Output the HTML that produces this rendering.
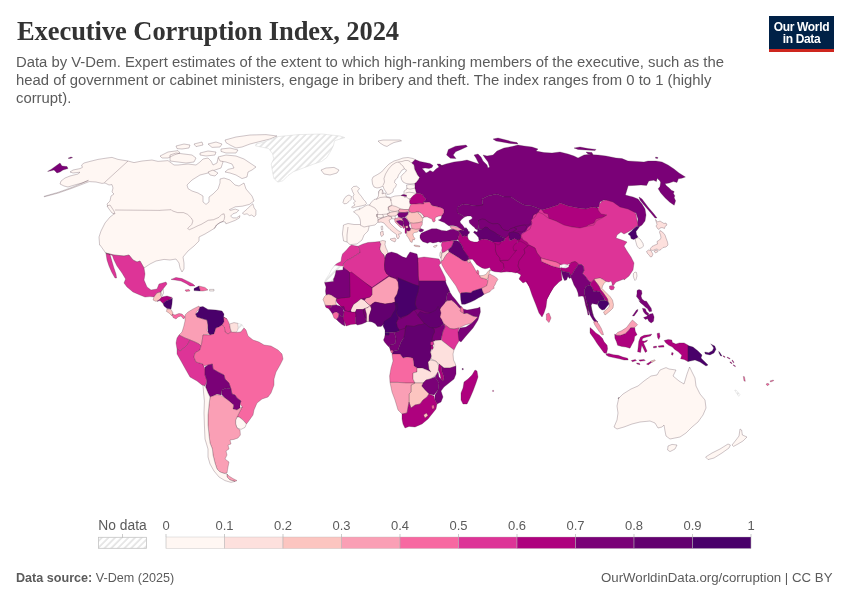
<!DOCTYPE html>
<html lang="en"><head><meta charset="utf-8"><title>Executive Corruption Index, 2024</title>
<style>
html,body{margin:0;padding:0;background:#fff;}
h1,.sub,.logo,.src,.url,svg{will-change:transform;}
body{width:850px;height:600px;position:relative;overflow:hidden;font-family:"Liberation Sans",sans-serif;color:#5b5b5b;}
h1{position:absolute;left:17.3px;top:15.4px;margin:0;font-family:"Liberation Serif",serif;font-weight:700;font-size:26.5px;line-height:32px;color:#333;white-space:nowrap;letter-spacing:-0.07px;}
.sub{position:absolute;left:16.3px;top:52.5px;margin:0;font-size:14.85px;line-height:18px;color:#5b5b5b;white-space:nowrap;}
.logo{position:absolute;left:769px;top:16px;width:65px;height:33px;background:#002147;border-bottom:3px solid #ce261e;color:#fff;font-weight:700;font-size:12px;line-height:12.3px;text-align:center;letter-spacing:-0.35px;}
.logo span{display:block;padding-top:5.2px;}
.src{position:absolute;left:15.6px;top:570.3px;font-size:12.6px;line-height:16px;color:#5b5b5b;white-space:nowrap;}
.src b{font-weight:700;}
.url{position:absolute;right:18px;top:570.2px;font-size:13.25px;line-height:16px;color:#5b5b5b;white-space:nowrap;}
svg{position:absolute;left:0;top:0;}
svg .map path{stroke:#3c2030;stroke-opacity:0.5;stroke-width:0.5;stroke-linejoin:round;}
svg .lg text{font-family:"Liberation Sans",sans-serif;font-size:13px;fill:#5b5b5b;}
</style></head><body>
<h1>Executive Corruption Index, 2024</h1>
<p class="sub">Data by V-Dem. Expert estimates of the extent to which high-ranking members of the executive, such as the<br>head of government or cabinet ministers, engage in bribery and theft. The index ranges from 0 to 1 (highly<br>corrupt).</p>
<div class="logo"><span>Our World<br>in Data</span></div>
<svg width="850" height="600" viewBox="0 0 850 600">
<defs><pattern id="hatch" width="4.7" height="4.7" patternUnits="userSpaceOnUse" patternTransform="rotate(45)"><rect width="4.7" height="4.7" fill="#fff"/><line x1="1" y1="0" x2="1" y2="4.7" stroke="#e2e2e2" stroke-width="1.6"/></pattern></defs>
<g class="map">
<path d="M520.0,237.4L521.6,233.6L525.6,231.6L527.6,227.6L531.6,224.6L530.6,220.6L533.6,214.6L539.6,208.6L546.0,212.0L552.0,213.0L570.0,215.0L584.0,215.0L594.0,213.0L600.0,207.0L610.0,201.0L620.0,201.0L623.0,215.0L616.0,225.0L610.0,235.0L610.0,261.0L568.0,264.0L560.0,265.0L546.0,261.0L541.0,258.6L535.6,253.4L532.6,247.4L527.6,243.4L523.6,240.4Z" fill="#dd3497" style="stroke:none"/>
<path d="M460.0,208.0L483.0,204.0L506.0,207.0L534.0,210.0L540.0,208.6L534.0,214.6L531.0,220.6L532.0,224.6L528.0,227.6L526.0,231.6L522.0,233.6L520.4,237.4L516.0,238.0L505.0,238.0L480.0,229.0L478.0,221.0L470.0,215.0Z" fill="#7a0177" style="stroke:none"/>
<path d="M516.0,238.0L520.4,237.0L524.0,240.0L528.4,243.0L533.4,247.0L536.4,253.0L528.0,255.0L520.0,247.0Z" fill="#ae017e" style="stroke:none"/>
<path d="M128.0,161.0L118.0,159.4L112.0,157.4L107.0,158.0L98.0,159.4L90.0,161.4L84.0,163.0L81.6,165.0L82.4,167.4L80.0,168.6L73.0,170.0L70.0,172.0L73.0,173.0L80.0,172.2L78.0,174.0L70.0,176.0L65.0,178.0L61.0,181.0L60.0,184.0L64.0,186.0L68.0,187.0L76.0,184.6L82.0,183.0L88.4,180.4L72.0,187.4L58.0,192.4L44.0,196.4L44.2,196.8L58.4,193.0L72.6,188.0L89.2,181.6L96.0,182.0L102.0,183.4L105.0,183.0L109.0,185.0L112.0,184.6L113.0,188.0L112.0,192.0L114.0,194.0L111.0,196.0L110.0,201.0L107.0,204.0L108.0,207.0L112.0,210.0L114.0,214.0L110.0,217.0L105.0,223.0L101.0,231.0L99.0,237.0L99.6,245.0L100.0,245.0L105.0,252.0L105.6,253.0L114.0,255.0L124.0,256.0L129.0,255.0L133.0,260.0L137.0,262.0L140.0,261.0L144.0,268.0L150.0,264.0L156.0,261.0L164.0,259.4L170.0,260.0L176.0,259.0L179.0,263.0L180.0,268.0L182.0,272.0L184.0,269.0L184.0,263.0L183.0,257.0L188.0,251.0L194.0,246.0L199.0,241.0L199.0,237.0L205.0,234.0L210.0,231.0L215.0,228.0L216.5,225.0L220.0,222.6L222.9,221.5L225.3,222.1L225.9,223.8L229.4,222.6L235.3,220.3L239.4,217.9L240.0,215.6L236.5,217.9L232.9,217.9L230.6,216.2L232.9,213.8L236.5,212.6L238.8,210.3L235.3,209.1L230.6,210.3L229.4,209.7L235.3,206.8L242.4,206.2L249.4,204.4L254.0,201.0L252.0,196.0L246.0,189.0L244.0,183.0L239.0,186.0L235.0,185.0L230.0,180.0L224.0,178.0L220.0,179.0L220.0,183.0L218.0,189.0L213.0,194.0L209.0,197.0L209.0,202.0L206.0,204.4L203.0,202.0L203.0,196.0L198.0,193.0L192.0,191.0L188.0,188.6L187.0,185.0L192.0,180.0L200.0,175.0L208.0,173.0L210.0,172.0L215.0,170.0L221.0,168.0L223.0,162.0L221.0,157.0L218.0,158.0L217.0,163.0L213.0,165.0L211.0,161.0L208.0,158.0L203.0,159.0L200.0,162.0L196.0,165.0L188.0,164.0L178.0,165.0L174.0,165.0L168.0,160.6L158.0,161.4L152.0,160.0L142.0,161.0L134.0,162.6Z" fill="#fff7f3"/>
<path d="M242.4,213.2L247.1,209.1L250.6,205.6L252.9,203.8L254.1,207.9L255.9,210.3L255.9,215.0L254.1,216.8L251.8,215.0L249.4,215.6L247.1,213.8L244.1,214.4ZM218.0,157.0L226.0,155.0L236.0,156.0L244.0,159.0L250.0,163.0L256.0,167.0L252.0,170.0L248.0,172.0L247.0,177.0L242.0,178.6L236.0,175.0L230.0,173.0L225.0,172.0L228.0,169.4L234.0,168.0L232.0,164.0L226.0,162.0L220.0,161.0ZM225.0,140.0L236.0,137.0L250.0,135.0L266.0,134.6L277.0,136.0L270.0,139.0L258.0,142.0L250.0,144.0L242.0,147.0L236.0,148.0L230.0,145.0L226.0,142.6ZM170.0,155.0L176.0,153.0L184.0,154.0L192.0,155.0L196.0,158.0L194.0,162.0L186.0,163.0L178.0,162.0L170.0,161.0ZM160.0,156.0L168.0,152.0L178.0,150.6L180.0,153.0L174.0,155.0L168.0,158.0L162.0,158.0ZM176.0,146.0L184.0,144.0L190.0,145.0L189.0,148.0L182.0,149.0L177.0,148.6ZM194.0,144.0L202.0,142.0L203.0,145.0L196.0,146.6ZM200.0,153.0L208.0,151.0L216.0,152.0L215.0,155.0L206.0,156.0L200.0,155.0ZM208.0,144.0L216.0,142.0L222.0,144.0L220.0,147.0L212.0,147.4ZM221.0,149.0L230.0,148.0L238.0,150.0L236.0,153.0L226.0,153.0L221.0,151.4ZM208.0,172.0L213.0,170.0L218.0,173.0L215.0,176.0L210.0,175.0ZM107.0,206.0L110.0,205.0L114.0,211.0L115.0,214.0L112.0,213.0L109.0,209.0Z" fill="#fff7f3"/>
<path d="M256.0,144.0L264.0,142.0L278.0,136.6L298.0,134.6L322.0,134.0L340.0,136.0L344.9,137.6L334.6,140.7L333.3,145.9L330.7,151.1L326.8,157.5L321.6,161.4L313.9,164.0L303.5,167.9L293.2,171.8L288.0,175.6L282.8,180.8L277.6,182.1L273.8,178.2L272.5,171.8L271.2,164.0L273.8,158.8L272.5,153.6L268.6,148.5L262.1,147.2L255.6,145.9Z" fill="url(#hatch)" style="stroke:#d6d6d6;stroke-opacity:1"/>
<path d="M321.0,170.0L326.0,168.0L334.0,167.4L339.0,170.0L337.0,173.0L330.0,175.0L324.0,174.0Z" fill="#fff7f3"/>
<path d="M47.6,171.4L51.0,169.4L60.0,163.0L62.0,166.0L67.0,166.6L68.0,168.6L63.0,170.0L60.0,172.0L57.0,173.0L54.0,170.0L50.0,171.0ZM68.0,158.2L71.0,157.0L72.6,157.6L70.0,158.6Z" fill="#7a0177"/>
<path d="M105.6,253.0L114.0,255.0L124.0,256.0L129.0,255.0L133.0,260.0L137.0,262.0L140.0,261.0L144.0,268.0L145.0,274.0L144.0,280.0L147.0,287.0L151.0,290.0L157.0,289.0L159.0,284.0L166.0,282.0L167.0,284.0L163.0,289.0L161.0,292.0L157.0,293.0L154.0,297.0L150.0,296.6L145.0,297.0L140.0,295.0L133.0,292.0L127.0,287.0L124.0,283.0L125.6,279.0L122.0,273.0L117.0,266.0L114.0,260.0L112.4,255.4L110.0,254.6ZM106.0,253.4L110.0,254.6L111.6,260.0L113.6,267.0L116.0,274.0L116.6,278.0L115.0,278.0L111.6,272.0L109.0,266.0L107.0,260.0Z" fill="#dd3497"/>
<path d="M154.0,297.0L157.0,293.0L161.0,292.0L160.4,295.4L162.0,297.0L159.0,300.0L156.0,301.4L153.0,300.0Z" fill="#fcc5c0"/>
<path d="M161.0,292.0L163.0,289.0L163.6,293.0L162.0,296.0Z" fill="#fff7f3"/>
<path d="M159.0,300.0L162.0,297.0L167.0,296.0L172.0,297.4L170.0,299.4L166.0,301.0L163.0,303.4L160.0,300.6L157.0,301.4Z" fill="#ae017e"/>
<path d="M163.0,303.4L166.0,301.0L170.0,299.4L172.4,298.0L172.0,304.0L171.0,309.0L167.0,308.6L164.0,306.0Z" fill="#49006a"/>
<path d="M167.0,309.0L171.0,309.4L173.0,313.0L172.0,316.0L169.0,313.0L166.4,311.4Z" fill="#fcc5c0"/>
<path d="M172.0,314.0L175.0,315.0L179.0,313.4L182.0,314.0L185.0,317.0L183.6,319.0L181.0,316.0L178.0,317.0L176.0,319.0L173.0,317.4Z" fill="#f768a1"/>
<path d="M171.0,279.4L176.0,277.4L182.0,278.6L188.0,281.4L193.0,284.0L195.0,286.0L190.0,286.0L186.0,283.4L181.0,281.0L175.0,280.0Z" fill="#dd3497"/>
<path d="M185.0,290.0L189.0,289.4L190.0,291.0L186.0,291.4Z" fill="#f768a1"/>
<path d="M194.0,288.6L199.0,286.0L200.4,291.0L194.0,290.6Z" fill="#49006a"/>
<path d="M199.0,286.0L205.0,287.4L208.0,290.0L203.0,291.0L200.4,291.0Z" fill="#f768a1"/>
<path d="M209.6,289.4L214.0,289.4L214.0,291.0L209.6,291.0Z" fill="#fff7f3"/>
<path d="M185.0,315.0L188.0,312.0L193.0,309.0L199.0,306.0L200.0,308.0L197.0,311.0L195.6,314.0L197.0,317.0L202.0,318.6L207.0,320.0L208.0,325.0L207.0,331.0L210.0,334.0L203.0,335.0L202.0,342.0L201.0,346.0L199.0,344.0L195.0,342.0L189.0,339.4L185.0,338.0L179.0,335.0L182.0,332.0L183.6,327.0L185.0,321.0Z" fill="#fa9fb5"/>
<path d="M200.0,307.0L203.0,306.6L208.0,309.4L216.0,310.0L222.0,311.0L224.0,314.0L223.6,317.0L227.0,319.0L224.0,322.0L222.0,325.0L219.0,327.0L216.0,328.0L214.0,334.0L210.0,335.0L208.0,332.0L208.0,325.0L207.0,320.0L202.0,318.6L197.0,317.0L195.6,314.0L198.0,312.0Z" fill="#49006a"/>
<path d="M223.6,317.0L227.0,319.0L229.0,323.0L230.0,327.0L231.0,332.0L228.0,334.0L225.0,332.0L224.4,327.0L222.0,325.0L224.0,322.0Z" fill="#f768a1"/>
<path d="M229.6,324.0L234.0,322.6L238.0,323.4L238.4,328.0L237.0,332.0L232.0,332.6L230.4,329.0Z" fill="#fde0dd"/>
<path d="M238.0,323.4L242.0,324.6L244.0,328.0L241.0,332.0L237.0,332.0L238.4,328.0Z" fill="url(#hatch)" style="stroke:#d6d6d6;stroke-opacity:1"/>
<path d="M179.0,335.0L185.0,338.0L190.0,340.0L188.0,344.0L184.0,348.0L180.0,351.0L177.0,349.0L176.0,343.0L177.0,338.0Z" fill="#dd3497"/>
<path d="M177.0,349.0L180.0,351.0L184.0,348.0L188.0,344.0L190.0,340.0L195.0,342.0L199.0,344.0L201.0,346.0L200.0,350.0L195.0,353.0L194.0,357.0L196.0,362.0L203.0,364.0L205.0,369.0L205.0,375.0L207.0,381.0L205.0,386.0L202.0,385.0L197.0,381.0L190.0,377.0L186.0,370.0L181.0,361.0L177.0,354.0Z" fill="#dd3497"/>
<path d="M210.0,335.0L214.0,334.0L216.0,328.0L219.0,327.0L222.0,325.0L224.4,327.0L225.0,332.0L228.0,334.0L231.0,332.0L237.0,332.6L241.0,332.0L244.0,328.0L246.0,330.0L248.0,336.0L253.0,340.0L259.0,342.0L264.0,345.0L271.0,346.0L278.0,350.0L282.0,354.0L283.0,359.0L280.0,365.0L276.0,372.0L274.0,379.0L274.0,385.0L271.0,393.0L268.0,397.0L262.0,399.0L257.0,403.0L254.0,410.0L253.0,415.0L248.0,422.0L246.4,424.0L243.0,420.0L239.0,417.0L237.0,417.0L240.0,411.0L242.4,407.0L240.0,404.0L241.0,401.0L237.0,398.0L235.0,395.0L232.0,394.0L231.0,389.0L229.0,383.0L225.0,379.0L224.0,375.0L218.0,372.0L213.0,369.0L212.4,364.0L208.0,365.0L203.0,366.0L203.0,364.0L196.0,362.0L194.0,357.0L195.0,353.0L200.0,350.0L201.0,346.0L202.0,342.0L203.0,335.0Z" fill="#f768a1"/>
<path d="M205.0,367.0L208.0,365.0L212.4,364.0L213.0,369.0L218.0,372.0L224.0,375.0L225.0,379.0L229.0,383.0L231.0,389.0L226.0,388.0L222.0,390.0L221.0,395.0L217.0,394.0L213.0,396.0L210.0,397.0L208.0,393.0L205.6,387.0L207.0,381.0L205.0,375.0Z" fill="#7a0177"/>
<path d="M222.0,390.0L226.0,388.0L231.0,389.0L232.0,394.0L235.0,395.0L237.0,398.0L241.0,401.0L240.0,404.0L240.0,408.0L237.0,410.0L233.0,409.0L233.6,405.0L229.0,401.0L225.0,398.0L221.6,394.6Z" fill="#7a0177"/>
<path d="M237.0,417.0L239.0,417.0L243.0,420.0L246.4,424.0L245.0,427.4L241.0,429.4L237.0,428.0L235.6,424.0L235.6,420.0Z" fill="#fff7f3"/>
<path d="M210.0,397.0L213.0,396.0L217.0,394.6L221.0,395.4L225.0,398.0L229.0,401.0L233.6,405.0L233.0,409.0L237.0,410.0L240.0,408.0L242.4,407.0L240.0,411.0L237.0,417.0L235.6,420.0L235.6,424.0L237.0,428.0L240.0,430.0L240.4,435.0L238.0,438.0L234.0,439.4L230.0,440.0L231.0,444.0L228.0,445.0L229.0,449.0L226.0,451.0L227.0,455.0L225.0,459.0L229.0,462.0L228.0,467.0L227.0,473.0L224.0,473.4L220.0,472.0L217.0,469.0L215.0,463.0L213.0,455.0L212.4,449.0L210.0,443.0L209.0,435.0L208.0,425.0L208.0,415.0L209.0,405.0ZM227.0,474.0L229.0,476.0L233.0,478.6L237.0,480.6L235.0,481.4L230.0,480.0L227.0,477.0Z" fill="#fa9fb5"/>
<path d="M203.0,385.0L205.6,387.0L208.0,393.0L210.0,397.0L209.0,405.0L208.0,415.0L208.0,425.0L209.0,435.0L210.0,443.0L212.4,449.0L213.0,455.0L215.0,463.0L217.0,469.0L220.0,472.0L224.0,473.4L227.0,474.0L227.0,477.0L230.0,480.0L235.0,481.4L231.0,482.4L225.0,480.6L219.0,477.0L214.0,471.0L210.0,464.0L208.0,457.0L208.0,449.0L205.0,439.0L204.4,425.0L204.0,413.0L204.4,401.0L203.6,393.0Z" fill="#fff7f3"/>
<path d="M415.0,159.5L420.0,161.5L425.0,162.5L430.0,163.5L433.0,165.5L432.0,167.5L429.0,168.5L425.0,168.0L422.0,168.5L424.0,170.5L426.0,173.0L428.0,172.0L430.0,170.5L433.0,172.0L436.0,169.0L439.0,167.0L437.0,164.0L440.0,164.0L443.0,166.5L440.0,166.0L446.0,164.0L454.0,162.0L462.0,161.0L467.0,160.0L473.0,162.0L479.0,164.0L476.0,158.0L474.0,155.0L478.0,154.0L481.0,157.0L483.0,161.0L487.0,165.0L488.0,168.0L489.6,167.0L488.0,162.0L485.0,158.0L483.0,155.0L487.0,156.0L493.0,155.0L497.0,151.0L504.0,148.0L512.0,146.6L518.0,145.0L524.0,146.0L532.0,147.0L538.0,149.0L536.0,151.0L544.0,152.6L552.0,153.0L560.0,152.0L568.0,154.0L574.0,156.0L578.0,158.0L584.0,155.0L588.0,154.6L598.0,155.0L606.0,156.0L616.0,158.0L622.0,158.6L628.0,161.0L636.0,161.4L644.0,162.0L648.0,161.0L656.0,161.0L662.0,162.0L668.0,165.0L674.0,169.0L679.0,173.0L685.4,177.0L681.8,178.2L678.4,178.8L677.0,182.4L673.4,181.6L669.2,183.0L665.0,183.8L666.4,185.8L669.2,188.0L671.4,190.2L674.2,191.6L673.4,193.6L674.8,195.8L674.2,197.8L675.6,200.8L674.2,205.2L669.8,202.2L665.0,197.8L660.8,193.0L658.2,188.8L660.0,186.6L660.6,182.4L660.0,181.0L657.2,178.2L656.4,181.6L653.6,180.2L648.8,181.0L646.6,185.4L641.0,185.0L633.8,185.4L628.2,185.8L625.4,195.0L629.0,196.0L633.0,197.0L638.0,199.0L642.0,204.0L645.0,209.0L646.0,215.0L645.0,221.0L642.0,225.0L639.0,227.0L637.0,225.0L638.0,219.0L636.0,213.0L632.0,212.0L629.0,214.0L623.0,211.0L616.0,207.0L610.0,202.0L604.0,200.0L600.0,202.0L599.0,207.0L592.0,209.0L598.0,208.0L592.0,207.0L586.0,209.0L578.0,208.0L568.0,206.0L560.0,203.0L558.0,205.0L549.0,208.0L542.0,210.0L540.0,209.0L532.0,206.0L524.0,205.0L517.0,201.0L511.0,197.0L504.0,197.0L497.0,194.0L488.0,196.0L482.0,199.0L483.0,205.0L477.0,206.0L470.0,205.0L463.0,204.0L458.0,207.0L457.6,211.0L458.5,213.5L461.5,215.0L464.5,217.0L461.5,219.5L460.0,221.5L460.5,223.0L462.5,225.0L465.0,228.5L467.5,231.5L464.0,230.0L461.5,230.5L460.5,229.0L457.0,226.5L453.0,225.5L449.0,225.5L450.4,226.2L448.3,225.4L444.2,222.5L440.8,221.2L438.3,220.0L440.0,219.6L441.2,218.3L441.7,215.8L442.5,214.6L443.8,212.5L443.8,209.6L441.7,207.9L438.3,207.1L435.0,206.2L431.7,205.4L430.4,203.3L429.2,202.1L425.0,202.5L423.8,201.7L425.0,200.4L426.2,199.2L423.8,197.1L422.9,195.0L420.0,193.5L416.7,193.3L416.5,193.5L415.8,191.5L414.8,188.0L415.0,185.0L414.5,183.5L416.0,182.5L418.0,180.0L419.5,177.5L417.5,175.0L416.0,172.0L414.5,169.0L414.0,165.0L411.5,163.0ZM446.6,155.0L448.4,149.4L455.6,146.2L466.0,145.0L467.4,146.6L461.0,149.4L455.6,151.8L453.2,155.0L456.0,158.6L450.4,158.2ZM493.0,139.0L498.0,138.0L506.0,140.0L511.0,141.4L517.0,142.6L518.0,144.0L510.0,143.4L502.0,142.0L496.0,141.0ZM574.0,148.0L580.0,147.0L588.0,148.6L596.0,149.4L595.0,150.6L586.0,150.0L578.0,149.4ZM586.0,152.0L592.0,152.6L593.0,155.0L588.0,154.0ZM639.0,197.0L642.0,199.0L648.0,207.0L654.0,214.0L657.0,218.0L655.0,218.0L650.0,212.0L644.0,205.0L640.0,200.0ZM655.6,157.0L658.0,157.6L657.6,158.6L655.6,158.2ZM401.0,196.5L403.0,195.2L406.2,197.0L404.0,197.2Z" fill="#7a0177"/>
<path d="M458.0,207.0L463.0,204.0L470.0,205.0L477.0,206.0L483.0,205.0L482.0,199.0L488.0,196.0L497.0,194.0L504.0,197.0L511.0,197.0L517.0,201.0L524.0,205.0L532.0,206.0L540.0,209.0L538.0,213.0L533.0,215.0L532.0,221.0L529.0,225.0L525.0,225.0L521.0,225.5L517.0,226.5L514.0,227.5L510.0,229.0L508.0,231.0L504.0,230.0L501.5,228.0L500.0,225.0L497.5,223.5L493.0,224.0L489.0,222.5L485.0,219.5L482.0,219.0L478.5,220.5L479.0,224.0L478.5,228.0L477.0,229.5L475.5,229.0L474.5,227.5L472.0,225.5L469.5,223.0L469.0,220.5L471.0,219.5L472.5,218.0L471.0,216.0L467.5,216.0L464.5,217.0L461.5,215.0L458.5,213.5L457.0,211.0Z" fill="#7a0177"/>
<path d="M542.0,210.0L549.0,208.0L558.0,205.0L560.0,203.0L568.0,206.0L578.0,208.0L586.0,209.0L592.0,207.0L598.0,208.0L600.0,212.0L606.0,215.0L604.0,217.0L596.0,219.0L594.0,223.0L588.0,225.0L584.0,229.0L574.0,227.0L564.0,226.0L556.0,221.0L549.0,219.0L548.0,214.0L544.0,213.0Z" fill="#ae017e"/>
<path d="M478.5,220.5L482.0,219.0L485.0,219.5L489.0,222.5L493.0,224.0L497.5,223.5L500.0,225.0L501.5,228.0L504.0,230.0L508.0,231.0L510.0,229.0L514.0,227.5L517.0,229.0L515.0,230.5L512.0,232.0L509.0,233.0L509.0,235.0L507.0,236.5L505.0,238.5L501.0,236.5L497.5,234.5L494.0,232.0L490.0,230.0L487.5,227.5L485.0,227.0L483.0,229.0L480.0,229.5L478.5,228.0L479.0,224.0Z" fill="#7a0177"/>
<path d="M474.5,231.0L476.5,232.0L478.0,231.0L477.0,229.5L478.5,228.0L480.0,229.5L483.0,229.0L485.0,227.0L487.5,227.5L490.0,230.0L494.0,232.0L497.5,234.5L501.0,236.5L505.0,238.5L504.5,240.5L501.5,241.5L500.0,244.0L498.0,245.0L495.5,243.5L494.5,243.0L491.0,241.0L487.0,239.5L483.0,239.0L479.0,240.5L478.5,237.5L476.0,234.5L473.5,232.5Z" fill="#63006f"/>
<path d="M514.0,227.5L517.0,226.5L521.0,225.5L525.0,225.0L527.0,227.0L525.0,230.0L522.0,232.0L519.0,231.5L516.0,232.5L513.0,232.0L515.0,230.5L517.0,229.0Z" fill="#7a0177"/>
<path d="M509.0,235.0L509.0,233.0L512.0,232.0L513.0,232.0L516.0,232.5L519.0,233.5L521.0,237.0L520.0,239.5L517.0,240.0L514.5,238.5L512.0,240.0L509.5,240.5L509.0,237.5Z" fill="#63006f"/>
<path d="M450.4,226.0L454.2,226.5L458.3,227.7L461.0,229.0L463.3,231.0L460.0,231.2L457.1,230.2L453.3,229.3L450.8,228.2Z" fill="#fa9fb5"/>
<path d="M455.8,230.7L458.3,231.0L460.4,232.9L462.3,236.2L460.8,235.8L458.8,233.8L457.1,232.1Z" fill="#fa9fb5"/>
<path d="M458.3,231.0L460.4,230.0L463.3,230.4L465.8,227.5L467.5,229.2L468.3,231.2L469.6,231.7L469.2,233.3L467.9,234.6L467.5,236.7L466.2,236.2L464.6,235.8L462.5,237.1L462.3,236.2L460.4,232.9Z" fill="#63006f"/>
<path d="M372.0,179.5L373.0,177.0L377.5,174.5L381.5,172.0L385.0,168.0L389.0,164.0L394.0,161.0L399.0,159.5L403.0,158.0L408.0,157.5L413.0,158.5L415.0,159.5L411.5,163.0L414.0,165.0L414.5,169.0L416.0,172.0L417.5,175.0L419.5,177.5L418.0,180.0L416.0,182.5L414.5,183.5L410.0,184.0L406.0,183.5L403.0,182.0L401.5,179.5L401.0,176.5L403.0,174.0L405.5,172.0L406.5,170.0L404.5,169.0L402.0,170.0L400.0,173.0L398.5,175.0L397.5,178.0L395.0,180.0L394.5,182.5L396.5,184.5L395.5,187.0L393.5,189.0L393.0,192.0L390.0,194.0L387.5,194.5L386.0,192.0L384.0,189.0L383.0,186.0L380.0,187.5L377.0,188.0L374.0,187.0L372.5,184.0ZM378.0,141.0L383.0,140.0L400.0,140.0L401.5,140.8L394.0,142.5L390.0,144.5L387.0,146.5L384.0,145.5L380.0,143.0ZM378.5,192.0L380.0,189.5L382.5,190.0L383.5,193.5L381.5,196.0L379.5,195.5Z" fill="#fff7f3"/>
<path d="M343.5,225.0L348.0,223.5L354.0,224.5L360.5,224.5L360.5,222.0L360.0,219.0L358.5,216.0L356.5,214.0L353.5,211.8L356.5,210.0L360.0,209.5L359.0,208.5L362.0,208.0L365.0,206.0L367.5,205.0L369.5,205.0L371.5,202.0L374.0,199.5L376.5,199.0L378.5,196.0L378.5,194.5L379.0,191.0L381.5,189.0L382.5,191.0L382.0,194.0L383.0,193.5L385.5,193.0L386.0,195.0L386.0,196.5L390.5,197.5L395.0,196.0L401.0,195.5L404.4,195.0L404.0,193.5L404.0,191.0L407.0,189.0L406.5,185.0L410.0,184.5L415.0,185.0L414.8,188.0L415.8,191.5L416.5,193.5L415.0,196.0L412.0,198.0L409.0,199.0L409.5,199.0L410.0,203.0L410.5,207.0L408.5,209.5L404.0,209.5L400.0,209.0L398.5,210.5L398.5,212.0L397.5,214.5L395.0,216.0L395.5,218.5L392.5,219.0L391.5,217.0L388.0,216.0L385.0,217.0L381.0,218.5L378.0,220.0L378.0,222.0L375.0,225.0L369.0,226.0L369.0,227.0L368.0,231.0L364.0,235.0L362.0,240.0L357.0,244.0L350.0,244.6L347.0,242.0L343.6,241.0L342.4,234.0Z" fill="#fff7f3"/>
<path d="M351.5,188.5L353.5,186.5L356.5,186.2L359.5,188.5L357.5,191.0L359.0,193.5L361.5,196.5L363.5,199.5L365.5,201.5L366.5,203.5L365.0,205.0L361.0,206.0L356.5,206.8L352.5,208.0L351.5,207.0L355.0,205.0L353.5,203.0L355.5,201.0L353.5,199.5L353.0,196.5L354.0,194.5L352.5,191.5ZM343.0,202.5L344.0,199.0L346.5,196.0L349.0,195.0L351.5,196.5L351.0,199.5L349.0,201.5L346.5,203.5L344.0,203.8ZM381.0,226.5L382.5,226.0L382.8,229.5L381.5,230.0Z" fill="#fff7f3"/>
<path d="M401.0,195.5L403.0,194.5L406.5,195.0L406.5,196.5L404.0,196.2Z" fill="#7a0177"/>
<path d="M388.0,207.0L392.0,205.5L396.0,206.5L400.0,208.5L398.5,210.5L395.0,211.5L391.0,211.0L388.5,209.5Z" fill="#fde0dd"/>
<path d="M398.5,210.5L400.0,209.0L404.0,209.5L408.5,209.5L408.5,211.5L405.0,212.5L401.0,212.5L399.0,212.0Z" fill="#fa9fb5"/>
<path d="M387.0,214.0L390.0,212.5L395.0,211.5L398.5,212.0L397.5,214.5L395.0,216.0L391.0,216.2L388.0,215.5Z" fill="#fde0dd"/>
<path d="M397.5,214.5L399.0,212.5L405.0,212.5L408.5,212.0L407.5,215.0L405.0,217.0L401.5,218.0L398.5,217.0Z" fill="#7a0177"/>
<path d="M409.6,201.2L410.8,198.3L413.3,195.4L416.7,193.3L420.0,193.5L422.9,195.0L423.8,197.1L426.2,199.2L425.0,200.4L423.8,201.7L423.8,204.0L420.0,203.8L415.8,204.0L411.2,204.2L410.0,203.8Z" fill="#ae017e"/>
<path d="M408.8,210.0L410.0,206.2L411.2,204.2L415.8,204.0L420.0,203.8L423.8,204.0L423.8,201.7L425.0,202.5L429.2,202.1L430.4,203.3L431.7,205.4L435.0,206.2L438.3,207.1L441.7,207.9L443.8,209.6L443.8,212.5L442.5,214.6L441.7,215.8L438.3,216.2L435.4,217.5L435.0,219.2L435.4,220.4L434.2,222.1L432.9,221.7L431.7,218.8L430.0,218.3L427.1,216.8L424.6,217.1L422.9,217.9L423.8,216.7L422.9,215.0L421.7,213.8L420.0,212.5L417.5,211.8L415.0,212.5L411.7,212.7L409.2,211.8Z" fill="#f768a1"/>
<path d="M417.5,211.8L420.0,212.5L421.7,213.8L422.9,215.0L423.8,216.7L422.9,217.9L421.7,217.5L420.8,215.4L418.8,213.8Z" fill="#fff7f3"/>
<path d="M406.2,216.7L408.3,214.2L409.2,211.8L411.7,212.7L415.0,212.5L417.5,211.8L418.8,213.8L420.8,215.4L421.7,217.5L422.9,218.3L422.5,221.2L420.8,222.1L417.5,222.9L413.3,223.3L410.4,222.9L408.8,220.8L407.1,219.2Z" fill="#fcc5c0"/>
<path d="M410.4,222.9L413.3,223.3L417.5,222.9L420.8,222.1L422.5,221.7L422.1,225.0L420.4,227.1L420.8,228.8L418.3,229.2L415.0,229.6L412.5,229.2L411.2,226.7L410.8,224.6Z" fill="#fa9fb5"/>
<path d="M394.5,219.0L398.5,217.5L402.0,218.5L403.5,221.0L400.5,220.5L397.5,220.0L396.5,221.5L399.0,224.5L402.0,227.5L400.5,227.5L397.5,224.5L395.0,222.0Z" fill="#fa9fb5"/>
<path d="M396.5,221.0L400.0,220.3L403.5,221.2L404.0,224.0L402.5,226.5L399.5,224.5L397.5,222.5Z" fill="#7a0177"/>
<path d="M402.0,218.5L405.0,217.2L407.5,220.0L409.5,223.0L409.0,225.5L410.0,228.5L407.0,230.0L405.5,228.0L404.0,226.0L404.0,224.0L403.5,221.2Z" fill="#7a0177"/>
<path d="M402.5,226.5L404.0,225.2L405.0,227.5L403.5,228.5Z" fill="#dd3497"/>
<path d="M405.3,226.5L407.5,225.5L408.5,228.0L406.5,229.0Z" fill="#fcc5c0"/>
<path d="M406.7,228.3L408.8,227.5L410.8,228.3L410.4,230.4L408.3,231.2L406.8,230.4Z" fill="#7a0177"/>
<path d="M405.0,228.3L406.2,227.9L406.8,230.4L406.7,232.9L405.8,233.8L405.0,232.5Z" fill="#ae017e"/>
<path d="M406.7,235.8L406.8,230.4L408.3,231.2L410.4,230.4L410.8,228.3L413.3,228.8L415.8,229.3L418.3,229.2L420.8,228.8L418.3,230.8L417.5,232.1L414.6,232.5L412.9,233.8L413.3,236.2L415.0,238.8L414.2,240.0L412.9,239.2L412.1,242.5L410.4,241.7L409.2,239.2L407.9,237.1ZM414.2,245.0L417.1,245.4L420.0,246.0L419.6,246.8L415.8,246.5L414.0,245.7Z" fill="#fcc5c0"/>
<path d="M378.0,220.0L381.0,218.5L385.0,217.0L388.0,216.0L391.5,216.8L391.5,219.0L389.0,220.0L390.0,223.0L394.0,227.0L398.0,230.5L401.5,232.5L401.0,234.0L398.5,234.0L399.5,236.5L398.0,239.0L396.5,237.0L396.5,234.5L393.0,232.0L390.0,229.5L386.5,226.0L384.0,223.0L381.0,222.0L378.5,222.5ZM390.0,239.0L395.0,238.0L396.0,239.5L395.0,242.0L391.5,240.5ZM380.5,232.0L383.0,231.0L383.5,235.0L381.5,236.5L380.5,234.5Z" fill="#fde0dd"/>
<path d="M419.2,230.0L421.2,228.8L423.8,229.8L422.9,231.2L420.8,232.1L419.0,231.2ZM420.0,235.4L421.2,233.3L423.8,232.1L427.5,230.4L431.7,228.8L436.7,228.8L441.7,230.4L446.7,231.0L450.4,229.6L453.3,229.2L456.2,230.4L458.3,231.2L460.0,232.9L459.2,235.0L458.3,237.1L457.9,239.6L455.0,240.4L451.7,240.8L448.3,241.2L445.0,241.7L442.1,241.8L440.8,242.5L438.3,241.7L435.8,242.5L432.9,242.9L430.0,242.1L427.5,243.3L425.4,242.5L422.9,241.7L421.2,240.0L420.0,237.9Z" fill="#7a0177"/>
<path d="M433.3,246.7L434.6,245.8L437.1,245.0L436.7,246.2L435.0,247.5Z" fill="#fde0dd"/>
<path d="M466.0,243.0L496.0,242.0L520.0,243.0L532.0,251.0L540.0,261.0L560.0,270.0L558.0,279.0L544.0,305.0L532.0,291.0L520.0,273.0L502.0,268.0L480.0,263.0Z" fill="#ae017e" style="stroke:none"/>
<path d="M521.0,235.0L525.0,232.0L530.0,229.0L532.0,223.0L531.0,220.0L535.0,217.0L538.0,212.0L543.0,214.0L548.0,218.0L556.0,221.0L564.0,225.0L572.0,227.0L580.0,228.0L588.0,226.0L594.0,225.0L596.0,221.0L602.0,218.0L607.0,215.0L601.0,214.0L598.0,210.0L599.0,205.0L602.0,201.0L606.0,200.0L613.0,202.0L620.0,207.0L628.0,209.0L634.0,212.0L636.0,214.0L637.0,220.0L638.0,225.0L633.0,229.0L628.0,232.0L624.0,234.0L621.0,232.0L617.0,235.0L616.0,238.0L622.0,240.0L627.0,242.0L624.0,246.0L627.0,251.0L631.0,257.0L634.0,263.0L633.0,270.0L629.0,276.0L624.0,280.0L624.0,279.0L620.0,280.5L616.0,282.0L614.5,284.0L613.5,285.5L612.2,285.0L612.0,283.0L611.0,281.0L609.0,282.0L606.0,281.5L603.0,279.5L600.0,278.0L594.0,279.5L591.0,282.5L590.0,282.0L587.5,279.5L585.5,276.5L582.5,273.5L584.0,270.5L583.5,266.5L581.5,264.5L578.5,264.5L577.5,263.0L575.0,261.5L571.5,262.5L567.0,265.0L560.0,264.0L556.0,262.0L548.0,260.0L541.0,258.0L537.0,253.0L535.0,248.0L529.0,245.0L527.0,242.0L523.0,240.0Z" fill="#dd3497"/>
<path d="M609.5,286.0L612.5,285.5L614.5,287.0L613.5,289.5L611.0,290.0L609.5,288.5Z" fill="#dd3497"/>
<path d="M633.5,273.5L635.0,272.0L636.5,272.5L637.0,276.0L636.0,279.5L635.0,280.5L634.0,278.5L633.3,276.0Z" fill="#fff7f3"/>
<path d="M628.0,234.0L631.0,231.5L633.5,229.0L636.5,226.5L638.5,226.0L639.0,227.5L637.5,229.5L636.0,231.5L636.5,234.5L638.0,237.0L636.0,238.5L633.5,239.5L631.0,238.5L630.5,236.0Z" fill="#49006a"/>
<path d="M635.0,239.0L638.0,237.5L640.5,239.5L643.0,243.5L643.5,246.0L641.5,248.0L639.0,248.5L637.0,246.0L636.0,242.5Z" fill="#fff7f3"/>
<path d="M655.5,219.5L657.5,222.0L660.0,221.0L664.0,223.5L666.0,223.0L667.0,225.0L665.0,226.5L664.5,228.5L662.0,227.5L660.0,228.0L659.0,229.5L657.5,228.5L656.0,226.0L657.0,224.5ZM660.0,230.5L662.5,232.0L665.0,235.0L666.0,238.0L667.5,242.0L668.0,245.0L666.0,247.0L663.0,247.5L661.0,249.5L659.0,250.5L657.0,249.0L655.0,249.5L653.0,250.5L651.0,250.0L650.0,249.0L652.0,246.5L655.0,245.0L657.5,244.0L657.0,241.5L659.5,240.0L661.0,238.0L660.5,235.0L659.5,232.5ZM654.0,251.0L657.0,250.0L658.0,251.5L655.5,253.0ZM646.5,251.5L648.5,250.0L651.0,250.5L652.0,252.5L653.0,254.0L652.0,256.5L650.5,257.0L649.0,255.0L647.5,253.5Z" fill="#fde0dd"/>
<path d="M463.3,250.0L462.5,246.7L460.8,243.8L459.2,241.7L457.9,239.6L458.3,237.1L459.2,235.0L460.0,232.9L462.3,236.2L462.5,237.1L464.6,235.8L466.2,236.2L467.5,236.7L468.5,239.5L470.5,241.0L474.0,242.0L477.5,242.0L479.0,240.5L483.0,239.0L487.0,239.5L491.0,241.0L494.5,243.0L495.5,246.0L495.4,250.0L496.7,254.2L500.0,258.3L500.0,260.8L503.3,263.3L504.2,267.9L501.2,272.3L498.3,272.1L495.0,271.7L491.7,270.8L490.8,269.6L489.6,267.5L487.5,268.3L485.0,268.8L482.1,267.9L479.2,266.2L476.7,264.6L474.6,261.7L472.5,259.2L469.6,259.3L468.8,257.9L466.7,255.0L464.6,252.5L462.5,250.0Z" fill="#ae017e"/>
<path d="M500.0,244.0L501.5,241.5L504.5,240.5L505.0,238.5L507.0,236.5L509.0,235.0L509.0,237.5L509.5,240.5L512.0,240.0L514.5,238.5L517.0,240.0L520.0,239.5L518.0,241.0L517.0,244.0L518.0,247.0L516.7,250.0L515.0,254.0L512.0,258.0L508.3,260.4L504.0,260.2L500.0,260.8L500.0,258.3L496.7,254.2L495.4,250.0L495.5,246.0L495.5,243.5L498.0,245.0Z" fill="#ae017e"/>
<path d="M500.0,260.8L508.3,260.4L516.7,250.0L514.0,251.0L513.0,247.0L515.0,244.0L520.0,241.0L524.0,243.0L528.0,246.0L524.0,249.0L525.0,253.0L522.0,257.0L519.0,261.0L518.0,266.0L520.0,270.0L516.0,273.0L511.7,272.1L506.7,271.8L501.2,272.3L504.2,267.9L503.3,263.3Z" fill="#ae017e"/>
<path d="M528.0,246.0L524.0,249.0L525.0,253.0L522.0,257.0L519.0,261.0L518.0,266.0L520.0,270.0L516.0,272.0L521.0,275.0L519.0,279.0L523.0,283.0L527.0,281.0L529.0,286.0L532.0,295.0L536.0,305.0L539.0,313.0L542.0,317.0L544.0,313.0L546.0,307.0L547.0,299.0L550.0,293.0L554.0,287.0L559.0,282.0L562.0,280.0L561.0,270.0L559.6,268.0L552.0,266.0L545.0,263.0L541.6,261.4L541.0,258.0L537.0,253.0L535.0,248.0L529.0,245.0Z" fill="#ae017e"/>
<path d="M569.0,265.0L571.5,262.5L575.0,261.5L577.5,263.0L578.5,264.5L576.0,268.0L574.0,271.0L572.5,274.0L570.0,275.5L569.5,272.5L565.5,272.0L563.0,271.5L561.0,270.0L560.0,268.0L562.0,267.5L565.5,268.0L568.5,266.8Z" fill="#ae017e"/>
<path d="M541.0,258.0L548.0,260.0L556.0,262.0L560.0,264.0L559.6,268.0L552.0,266.0L545.0,263.0L541.6,261.4Z" fill="#f768a1"/>
<path d="M561.5,265.0L564.0,264.2L567.5,265.0L568.5,266.8L565.5,268.0L562.0,267.5Z" fill="url(#hatch)" style="stroke:#d6d6d6;stroke-opacity:1"/>
<path d="M561.0,270.0L563.0,271.5L565.5,272.0L569.5,272.5L570.0,275.5L571.0,277.5L569.5,278.5L568.0,276.5L566.5,280.0L564.5,280.5L563.0,277.5L562.0,274.0Z" fill="#63006f"/>
<path d="M546.4,314.0L549.0,313.0L551.0,318.0L549.0,322.6L546.4,320.0Z" fill="#f768a1"/>
<path d="M576.0,268.0L578.5,264.5L581.5,264.5L583.5,266.5L584.0,270.5L582.5,273.5L585.5,276.5L587.5,279.5L590.0,282.0L591.0,282.5L590.0,285.0L586.0,286.5L584.5,290.0L584.5,293.5L585.5,297.0L586.5,302.0L588.0,306.0L588.5,311.0L589.0,315.0L588.0,315.0L587.0,310.0L585.5,305.0L584.5,300.0L583.5,296.5L582.0,296.0L578.5,296.5L578.0,293.0L576.5,289.0L574.0,285.0L572.5,281.0L571.0,277.5L570.0,275.5L572.5,274.0L574.0,271.0Z" fill="#7a0177"/>
<path d="M594.0,279.0L600.0,278.0L603.0,279.5L606.0,281.5L604.0,283.5L602.5,286.0L602.0,288.5L604.0,290.5L607.0,293.5L610.0,296.5L612.5,300.0L613.5,304.5L613.0,308.0L610.0,311.0L607.0,313.5L605.0,315.0L603.5,312.0L606.5,309.5L609.0,307.0L609.5,304.0L608.0,301.5L607.5,299.0L605.5,296.0L603.0,292.5L600.5,289.5L599.5,287.0L597.5,284.0L595.5,281.5Z" fill="#fcc5c0"/>
<path d="M591.0,282.5L594.0,279.5L595.5,281.5L597.5,284.0L599.5,287.0L600.5,289.5L603.0,292.5L605.5,296.0L607.5,299.0L608.0,301.5L605.5,300.5L604.0,298.0L602.0,295.0L600.0,292.0L596.5,291.0L593.5,291.5L592.5,288.0L590.0,285.0Z" fill="#ae017e"/>
<path d="M584.5,290.0L586.0,286.5L590.0,285.0L592.5,288.0L593.5,291.5L596.5,291.0L600.0,292.0L602.0,295.0L604.0,298.0L605.0,300.5L601.0,300.5L598.5,301.5L597.5,304.5L594.5,304.0L592.0,303.5L591.0,306.0L591.5,309.5L592.5,313.0L593.0,315.0L591.0,306.0L592.0,312.0L594.0,317.0L596.0,320.0L598.0,322.0L596.0,323.0L593.0,320.0L590.0,315.0L588.4,309.0L588.0,302.0L588.5,311.0L588.0,306.0L586.5,302.0L585.5,297.0L584.5,293.5Z" fill="#63006f"/>
<path d="M598.5,301.5L601.0,300.5L605.0,300.5L608.0,301.5L609.0,304.0L606.5,307.0L604.5,309.5L602.0,310.0L599.5,308.0L597.8,305.0Z" fill="#49006a"/>
<path d="M593.5,321.8L596.5,321.2L598.8,324.1L601.2,328.2L602.9,332.4L603.5,334.7L601.8,334.7L599.4,331.8L596.5,327.6L594.7,324.7Z" fill="#fa9fb5"/>
<path d="M590.0,327.6L592.4,329.4L595.9,332.9L599.4,335.3L602.4,338.2L604.1,341.8L607.1,345.3L607.6,348.8L606.5,353.5L604.1,352.9L600.6,348.2L597.1,343.5L594.1,338.8L591.2,334.7L590.0,332.9ZM605.9,354.1L608.8,353.5L613.5,354.7L618.2,355.3L622.9,357.1L627.6,358.2L628.2,360.0L624.1,360.0L619.4,358.8L613.5,357.6L608.8,356.5L606.5,355.3ZM631.2,360.6L635.3,359.4L636.5,360.6L632.4,361.8ZM638.8,360.0L644.1,359.4L645.3,360.6L640.0,361.2ZM636.5,362.9L639.4,363.3L640.0,364.7L637.1,364.1ZM646.5,364.1L651.2,361.2L652.4,361.8L648.2,364.9ZM614.7,334.1L616.5,335.3L620.6,335.3L625.3,333.5L628.8,330.0L630.6,327.6L634.7,327.6L635.3,331.2L637.1,334.7L634.7,336.5L634.1,340.6L631.8,344.7L630.0,348.2L625.9,347.1L621.8,346.5L617.6,345.3L616.5,341.8L614.9,338.2ZM637.6,351.8L638.2,347.1L638.8,341.2L640.6,337.1L644.1,335.3L648.8,334.7L651.8,334.1L650.6,335.9L646.5,337.1L642.9,338.2L641.8,340.6L644.1,341.2L647.6,340.0L646.5,341.8L643.5,342.9L645.3,347.1L647.1,351.2L645.3,352.4L643.5,348.8L641.8,345.3L641.2,348.2L640.6,352.4ZM657.1,333.5L659.4,332.9L660.0,336.5L658.8,339.4L657.6,337.6ZM653.5,346.5L656.5,346.1L656.5,347.6L653.5,348.0ZM658.2,345.9L663.5,345.3L664.1,347.1L658.8,347.3ZM671.8,352.4L673.3,352.9L672.7,355.3L671.4,354.7ZM664.1,340.6L668.2,339.4L671.8,340.0L672.4,342.4L675.9,344.1L679.4,342.9L684.1,342.9L688.2,345.3L688.0,345.6L688.0,361.6L684.1,359.4L680.6,358.8L681.8,355.3L678.2,351.8L674.7,349.4L672.4,347.1L668.8,345.3L665.9,342.9Z" fill="#ae017e"/>
<path d="M650.6,361.2L654.7,359.8L655.3,360.6L651.8,362.4Z" fill="#fcc5c0"/>
<path d="M616.5,335.3L620.6,335.3L625.3,333.5L628.8,330.0L630.6,327.6L634.7,327.6L637.6,324.7L635.3,322.4L632.4,320.0L630.0,322.9L626.5,327.6L621.8,330.6L617.6,332.4L616.1,333.9Z" fill="#fa9fb5"/>
<path d="M688.0,345.6L693.0,347.0L698.0,351.0L702.0,355.0L701.0,358.0L704.0,361.0L708.0,365.0L706.0,366.0L700.0,362.0L695.0,360.0L688.0,361.6ZM704.7,352.0L708.7,352.7L712.4,350.7L713.7,348.0L712.0,345.3L710.7,344.0L714.7,346.0L716.0,349.3L714.0,352.9L710.0,354.9L705.3,354.0ZM718.7,351.3L720.0,352.7L722.0,356.0L720.7,356.0L719.1,353.3Z" fill="#49006a"/>
<path d="M723.3,355.7L725.1,356.8L724.8,357.5L723.2,356.4ZM727.3,357.1L730.1,358.4L729.9,359.1L727.2,357.7ZM730.0,361.7L732.1,363.1L731.9,363.7L729.9,362.4ZM732.4,360.0L734.1,362.4L733.5,362.8L731.9,360.4ZM733.3,364.7L735.5,366.0L735.2,366.7L733.2,365.3Z" fill="#ae017e"/>
<path d="M743.3,376.4L744.4,376.7L745.3,381.3L744.0,380.9ZM766.0,384.0L768.0,383.3L769.3,384.4L767.3,385.7ZM770.0,380.9L773.3,380.0L773.7,380.7L770.7,382.0Z" fill="#f768a1"/>
<path d="M734.7,390.3L736.0,390.0L740.0,394.7L738.7,396.3Z" fill="url(#hatch)" style="stroke:#d6d6d6;stroke-opacity:1"/>
<path d="M637.0,290.5L639.0,289.5L641.5,290.5L642.0,293.5L641.0,296.0L642.0,299.0L644.5,301.0L646.5,301.2L648.8,304.7L651.2,308.2L651.8,311.2L649.4,311.8L647.6,308.8L645.3,307.1L642.9,304.7L640.6,302.9L638.8,300.6L640.5,301.5L638.5,299.0L636.5,296.5L637.0,293.5ZM642.4,308.2L645.3,308.8L646.5,311.8L648.8,313.5L648.2,315.9L645.3,314.1L643.5,311.8ZM643.5,317.6L646.5,316.5L650.0,314.1L652.9,313.5L654.1,317.1L653.5,321.2L651.2,322.9L648.8,321.2L647.6,318.8L645.3,319.4ZM632.4,315.9L636.5,310.0L638.0,309.4L637.6,311.2L634.1,315.9Z" fill="#7a0177"/>
<path d="M442.1,242.1L445.0,241.7L448.3,241.2L451.7,240.8L453.8,241.0L452.9,243.8L451.7,246.7L448.3,249.2L445.0,251.7L442.5,252.9L441.7,250.4L442.1,247.9L441.2,245.0Z" fill="#dd3497"/>
<path d="M440.0,252.5L441.2,251.7L441.7,255.0L440.8,258.3L439.8,255.8Z" fill="#fde0dd"/>
<path d="M441.7,253.3L445.0,251.7L448.3,249.6L449.2,252.1L446.7,254.2L445.0,256.7L442.9,260.4L441.2,261.2L441.2,258.3L441.8,255.0Z" fill="#fde0dd"/>
<path d="M451.7,246.7L452.9,243.8L453.8,241.0L456.7,240.4L459.2,241.7L460.8,243.8L462.5,246.7L463.3,250.0L465.8,253.3L468.3,256.7L469.2,259.2L467.1,260.8L465.0,261.2L462.5,260.4L458.3,257.5L454.2,255.0L449.2,252.1L448.3,249.6Z" fill="#63006f"/>
<path d="M441.2,261.2L442.9,260.4L445.0,256.7L446.7,254.2L449.2,252.1L454.2,255.0L458.3,257.5L462.5,260.4L465.0,261.2L467.1,260.8L468.3,262.9L468.8,262.5L470.4,261.7L472.1,264.2L473.8,267.1L475.4,270.0L476.7,272.1L478.8,274.6L480.0,275.8L480.4,277.5L486.7,279.2L487.9,280.4L487.5,283.3L486.7,285.8L481.7,288.3L477.5,289.6L472.5,291.2L470.8,292.9L466.2,292.5L461.2,292.9L460.4,294.2L459.0,292.0L456.0,286.0L451.0,279.0L446.0,272.0L442.0,265.0L441.0,261.4Z" fill="#f768a1"/>
<path d="M467.1,260.0L469.6,259.3L470.4,261.7L468.8,262.5Z" fill="#fcc5c0"/>
<path d="M460.4,294.2L461.2,292.9L466.2,292.5L470.8,292.9L472.5,291.2L477.5,289.6L481.7,288.3L482.9,291.7L484.2,294.2L481.7,296.2L478.3,297.9L475.0,300.0L470.8,302.1L465.0,304.2L461.7,304.2L460.8,300.0Z" fill="#49006a"/>
<path d="M488.5,275.0L490.0,273.8L491.7,275.0L494.2,276.2L497.1,278.3L497.9,279.6L496.2,282.1L495.4,284.2L493.8,286.7L494.2,288.3L491.7,289.6L490.0,291.7L487.1,292.9L484.2,294.2L482.9,291.7L481.7,288.3L486.7,285.8L487.5,283.3L487.9,280.4L487.9,278.3ZM489.5,269.8L490.5,269.7L490.7,270.8L489.8,271.0Z" fill="#fa9fb5"/>
<path d="M480.0,275.8L483.3,275.4L486.2,274.2L487.5,272.1L489.2,270.4L489.6,272.1L488.5,275.0L487.9,278.3L486.7,279.2L480.4,277.5Z" fill="#fcc5c0"/>
<path d="M476.8,270.4L477.9,270.0L478.8,271.7L478.8,274.2L477.5,273.8L476.8,272.1Z" fill="#f768a1"/>
<path d="M618.0,399.0L623.0,394.0L631.0,389.0L638.0,386.0L644.0,381.0L651.0,376.0L657.0,375.0L660.0,370.0L666.0,367.6L669.0,369.0L676.0,370.0L673.0,376.0L679.0,381.0L684.0,384.0L687.0,374.0L689.6,367.0L692.0,372.0L695.0,378.0L696.0,386.0L700.0,394.0L705.0,400.0L706.0,408.0L703.0,415.0L698.0,422.0L692.0,427.0L686.0,433.0L680.0,437.0L675.0,438.0L670.0,439.0L666.0,436.0L665.0,431.0L664.0,425.0L662.0,427.0L658.0,428.0L655.0,423.0L650.0,421.0L640.0,422.0L632.0,424.0L624.0,427.0L617.0,429.0L614.0,427.0L617.0,420.0L618.0,413.0L617.0,406.0L619.0,397.0ZM668.0,446.0L672.0,444.4L677.0,445.0L675.0,449.0L670.0,451.6L667.6,450.0ZM732.0,445.0L736.0,440.0L739.0,436.0L740.0,429.0L741.6,430.0L742.4,435.0L747.0,437.0L743.0,441.0L738.0,444.0L733.6,446.4ZM705.6,457.0L712.0,453.0L720.0,449.0L728.0,444.0L730.4,445.0L729.0,448.0L722.0,453.0L714.0,458.0L708.0,459.6Z" fill="#fff7f3"/>
<path d="M342.0,272.0L380.0,252.0L416.0,260.0L442.0,284.0L442.0,324.0L430.0,352.0L414.0,352.0L396.0,328.0L376.0,320.0L348.0,316.0L336.0,300.0Z" fill="#7a0177" style="stroke:none"/>
<path d="M402.0,344.0L430.0,344.0L430.0,368.0L418.0,366.0L410.0,356.0Z" fill="#63006f" style="stroke:none"/>
<path d="M334.5,265.5L337.0,263.5L341.0,261.5L341.5,257.5L342.5,254.0L346.5,250.0L349.5,246.5L351.5,245.0L355.0,245.8L358.0,246.2L359.5,248.5L360.0,253.0L357.0,254.5L354.0,256.5L350.0,259.0L346.5,260.5L343.5,263.5L343.0,266.5Z" fill="#dd3497"/>
<path d="M334.5,265.5L343.0,266.5L343.0,270.0L336.0,270.5L335.5,273.5L334.5,277.0L333.5,279.0L333.3,281.5L324.5,282.0L326.0,279.0L329.0,274.5L331.5,269.5Z" fill="url(#hatch)" style="stroke:#d6d6d6;stroke-opacity:1"/>
<path d="M358.0,246.2L363.0,244.0L368.0,242.5L375.0,242.0L379.5,241.5L381.0,244.0L379.8,249.0L381.5,252.5L384.0,255.0L385.0,259.0L384.5,265.0L384.8,270.0L386.5,273.5L389.0,275.5L372.0,287.5L349.0,272.0L343.5,267.5L343.5,263.5L346.5,260.5L350.0,259.0L354.0,256.5L357.0,254.5L360.0,253.0L359.5,248.5Z" fill="#dd3497"/>
<path d="M379.5,241.5L382.5,240.5L385.5,241.0L385.0,244.5L386.0,248.0L387.5,251.0L388.0,253.0L386.0,255.0L385.0,258.5L384.0,255.0L381.5,252.5L379.8,249.0L381.0,244.0Z" fill="#fde0dd"/>
<path d="M385.0,259.0L386.0,255.0L388.0,253.0L391.5,252.0L397.0,253.5L402.0,256.5L406.0,258.5L408.0,255.0L410.0,252.0L417.0,254.0L418.0,258.0L418.4,276.0L419.0,281.0L419.0,286.0L416.0,286.0L397.0,277.0L395.0,278.5L389.0,275.5L386.5,273.5L384.8,270.0L384.5,265.0Z" fill="#7a0177"/>
<path d="M418.0,258.0L424.0,257.0L432.0,258.0L439.0,259.0L441.0,263.0L439.0,265.0L442.0,271.0L445.0,277.0L446.0,281.0L419.0,281.0L418.4,276.0Z" fill="#dd3497"/>
<path d="M419.0,281.0L445.4,281.0L446.4,284.0L448.4,288.0L450.0,292.0L448.4,292.0L447.0,295.0L446.4,299.0L445.4,302.0L443.0,309.0L440.0,308.0L438.0,311.0L432.0,313.0L426.0,312.0L421.0,310.0L417.0,309.0L415.0,304.0L416.0,298.0L418.0,292.0L419.0,286.0Z" fill="#63006f"/>
<path d="M398.0,278.0L413.0,284.0L419.0,286.0L418.0,292.0L416.0,298.0L415.0,304.0L417.0,309.0L413.0,311.0L408.0,315.0L402.0,317.0L401.0,318.0L398.0,316.0L396.0,312.0L397.0,309.0L395.0,305.0L395.0,302.0L394.5,298.0L397.0,294.0L398.5,288.0L398.0,282.0Z" fill="#49006a"/>
<path d="M372.0,288.0L389.0,276.5L396.0,279.0L398.0,282.0L398.5,288.0L397.0,294.0L394.5,298.0L395.0,302.0L392.0,303.0L385.0,304.0L380.0,303.0L375.0,302.0L372.0,304.0L370.0,305.5L368.0,304.0L364.5,300.5L366.0,298.0L370.0,297.0L372.0,294.5Z" fill="#fa9fb5"/>
<path d="M349.5,273.0L351.5,272.0L372.0,288.0L372.0,294.5L370.0,297.0L366.0,298.0L361.0,298.8L357.0,302.0L353.5,304.5L351.5,308.5L350.8,310.5L348.0,311.5L345.0,310.5L344.0,306.5L341.0,306.5L336.5,302.0L336.5,298.5L350.0,297.0Z" fill="#ae017e"/>
<path d="M324.5,282.5L333.5,281.5L333.5,279.0L334.5,277.0L335.5,273.5L336.0,270.5L343.0,270.0L343.0,267.0L349.0,272.0L349.5,273.0L350.0,297.0L336.5,298.5L334.0,297.0L331.0,295.0L328.5,294.5L326.0,295.0L325.5,291.0L326.0,287.0Z" fill="#7a0177"/>
<path d="M326.0,295.0L328.5,294.5L331.0,295.0L334.0,297.0L336.5,298.5L335.5,302.0L336.5,305.0L331.5,305.5L328.0,305.5L325.0,305.0L324.5,303.0L323.0,299.5L324.5,296.5Z" fill="#fcc5c0"/>
<path d="M325.0,305.5L331.0,305.5L331.5,307.0L328.5,308.5L326.0,307.5Z" fill="#ae017e"/>
<path d="M328.5,308.5L331.5,307.0L331.5,305.5L336.5,305.0L341.0,306.5L342.5,308.0L344.0,312.0L343.5,316.5L341.5,317.0L339.0,314.0L336.5,312.0L334.5,312.5L332.5,314.0L330.5,311.0Z" fill="#7a0177"/>
<path d="M332.5,314.0L334.5,312.5L336.5,312.0L339.0,314.0L338.5,317.0L336.5,319.5L334.0,318.0Z" fill="#f768a1"/>
<path d="M336.5,319.5L338.5,317.0L339.0,314.0L341.5,317.0L343.5,316.5L344.5,322.0L345.0,326.0L342.0,324.5L339.0,322.0Z" fill="#7a0177"/>
<path d="M344.0,312.0L345.0,310.5L348.0,311.5L351.5,312.0L355.5,312.0L356.0,315.0L355.5,320.0L356.0,324.0L351.0,324.5L346.0,326.0L345.0,323.0L343.0,319.0L343.5,316.5Z" fill="#ae017e"/>
<path d="M351.5,308.5L353.5,304.5L357.0,302.0L361.0,298.8L364.5,300.5L368.0,304.0L370.0,305.5L368.0,307.5L365.0,308.5L362.0,309.5L356.5,309.5L355.5,312.0L351.5,312.0L350.8,310.5Z" fill="#fde0dd"/>
<path d="M356.5,309.5L362.0,309.5L363.5,310.5L364.0,314.0L365.5,318.0L366.5,322.0L362.0,324.0L357.5,325.0L356.0,324.0L355.5,320.0L356.0,315.0L355.5,312.0Z" fill="#7a0177"/>
<path d="M363.5,310.5L365.0,308.5L366.5,314.0L366.8,321.5L366.5,322.0L365.5,318.0L364.0,314.0Z" fill="#7a0177"/>
<path d="M365.0,308.5L368.0,307.5L370.0,305.5L371.5,309.0L370.5,312.0L369.2,316.0L369.0,321.5L366.8,321.5L366.5,314.0Z" fill="#fde0dd"/>
<path d="M371.5,309.0L372.0,304.0L375.0,302.0L380.0,303.0L385.0,304.0L392.0,303.0L395.0,302.0L395.0,305.0L397.0,309.0L394.5,312.0L392.0,316.0L389.0,319.5L386.0,321.0L384.0,324.0L381.0,326.5L377.5,326.5L375.0,323.5L372.0,322.0L369.0,321.5L369.2,316.0L370.5,312.0Z" fill="#63006f"/>
<path d="M397.0,303.0L398.0,309.0L396.0,312.0L397.0,315.0L398.5,318.0L398.0,319.5L396.5,322.5L397.5,327.0L399.5,330.0L398.5,331.8L394.0,332.2L389.0,332.5L385.0,332.5L385.0,330.0L383.0,326.0L384.0,321.5L387.0,319.5L391.0,317.0L393.0,313.0L395.0,310.0L396.0,306.0Z" fill="#49006a"/>
<path d="M396.5,322.5L398.0,319.5L401.5,318.5L406.0,316.0L410.0,313.5L414.0,310.0L416.0,312.0L417.5,315.0L420.0,318.0L422.0,320.5L424.5,323.5L422.0,324.5L418.0,325.0L414.0,326.5L410.0,326.0L406.2,325.8L405.0,328.5L399.5,330.0L397.5,327.0Z" fill="#7a0177"/>
<path d="M417.5,315.0L420.0,311.5L424.0,313.0L428.0,313.5L432.0,312.0L436.0,310.0L438.0,306.5L440.0,309.5L441.0,313.0L440.0,317.0L442.0,320.0L444.0,324.0L440.0,326.5L436.0,328.0L432.0,328.0L429.0,327.0L426.0,324.5L424.5,323.5L422.0,320.5L420.0,318.0Z" fill="#63006f"/>
<path d="M440.0,309.5L441.0,307.5L444.0,304.0L446.5,301.0L449.4,300.4L451.4,300.0L454.0,302.0L457.0,305.0L459.0,307.4L461.0,308.4L460.0,311.0L464.0,313.6L467.0,313.0L473.0,316.0L478.0,317.0L472.0,323.0L465.0,325.0L461.0,327.0L459.0,328.0L454.0,329.0L450.0,328.5L446.0,325.5L444.0,324.0L442.0,320.0L440.0,317.0L441.0,313.0Z" fill="#fa9fb5"/>
<path d="M447.0,295.0L448.4,292.0L450.0,292.2L452.4,296.0L455.4,299.4L458.4,303.4L460.4,306.0L462.0,307.0L461.0,308.4L459.0,307.4L457.0,305.0L454.0,302.0L451.4,300.0L449.4,300.4L447.0,300.4L445.4,302.0L446.4,299.0Z" fill="#7a0177"/>
<path d="M460.4,307.0L462.4,307.4L463.4,309.0L464.0,313.6L460.0,311.0L461.0,308.4Z" fill="#f768a1"/>
<path d="M464.0,313.6L463.4,309.0L467.0,310.0L470.0,309.6L478.0,308.0L480.0,307.0L480.4,312.0L478.0,320.0L473.0,328.0L466.0,336.0L461.0,342.0L458.0,340.0L458.0,332.0L460.0,328.0L466.0,327.0L472.0,323.0L478.0,317.0L473.0,316.0L467.0,313.0Z" fill="#7a0177"/>
<path d="M444.0,324.0L446.0,325.5L450.0,328.5L454.0,329.0L459.0,328.0L458.0,332.0L458.5,337.0L459.0,341.0L456.5,345.0L454.0,350.0L450.0,347.0L445.0,343.0L441.5,340.0L441.5,337.0L443.0,331.0L445.0,327.0Z" fill="#dd3497"/>
<path d="M432.0,328.0L436.0,328.0L440.0,326.5L444.0,324.0L445.0,327.0L443.0,331.0L441.5,337.0L441.0,340.0L436.0,340.5L432.0,340.0L432.0,339.0L433.0,335.0L434.5,332.0L434.0,329.0Z" fill="#7a0177"/>
<path d="M406.2,325.8L410.0,326.0L414.0,326.5L418.0,325.0L422.0,324.5L424.5,323.5L426.0,324.5L429.0,327.0L432.0,328.0L434.0,329.0L434.5,332.0L433.0,335.0L432.0,339.0L431.5,343.0L431.0,347.0L430.5,352.0L431.5,356.0L430.0,360.0L428.0,362.0L429.0,369.0L431.0,372.0L427.0,370.0L422.0,368.0L417.0,368.0L414.0,366.0L413.0,358.0L407.0,357.0L403.0,358.0L400.0,354.0L392.5,354.5L392.0,352.5L394.0,351.0L398.0,350.0L399.5,346.0L401.0,342.0L403.0,339.0L404.5,335.0L405.0,330.0Z" fill="#63006f"/>
<path d="M430.5,342.0L433.0,341.5L434.0,344.0L432.0,345.5L430.5,345.0Z" fill="#dd3497"/>
<path d="M431.0,345.5L432.5,345.5L433.5,348.0L432.0,350.0L430.8,348.0Z" fill="#ae017e"/>
<path d="M394.0,332.2L398.5,331.8L399.5,330.0L405.0,328.5L406.2,325.8L405.0,330.0L404.5,335.0L403.0,339.0L401.0,342.0L399.5,346.0L398.0,350.0L394.0,351.0L392.0,352.5L390.5,350.5L389.5,347.5L390.0,345.0L393.0,344.5L395.5,343.0L396.0,338.5L395.0,335.0Z" fill="#7a0177"/>
<path d="M385.0,335.0L389.0,335.0L389.0,332.5L394.0,332.2L395.0,335.0L396.0,338.5L395.5,343.0L393.0,344.5L390.0,345.0L389.5,347.5L387.0,345.0L384.5,342.0L383.5,340.0L384.5,337.5Z" fill="#7a0177"/>
<path d="M385.0,332.5L389.0,332.5L389.0,335.0L385.0,335.0Z" fill="#49006a"/>
<path d="M392.0,354.0L400.0,354.0L403.0,358.0L407.0,357.0L413.0,358.0L414.0,366.0L417.0,368.0L417.0,372.0L413.0,373.0L413.0,379.0L415.0,383.0L406.0,383.0L398.0,382.4L390.0,382.4L389.6,376.0L391.0,368.0L393.0,361.0ZM390.6,350.4L392.6,350.0L393.0,352.8L391.2,352.8Z" fill="#f768a1"/>
<path d="M417.0,368.0L422.0,368.0L427.0,370.0L431.0,372.0L429.0,369.0L428.0,362.0L430.0,360.0L436.0,361.0L439.0,366.0L438.0,372.0L435.0,376.0L430.0,379.0L426.0,380.0L423.0,383.0L415.0,383.0L413.0,379.0L413.0,373.0L417.0,372.0Z" fill="#fde0dd"/>
<path d="M434.0,344.0L433.0,341.5L436.0,340.5L441.0,340.0L445.0,343.0L450.0,347.0L454.0,350.0L453.0,354.0L453.5,360.0L455.0,363.0L456.0,366.0L450.0,368.0L444.0,368.0L439.0,364.0L436.0,361.0L431.0,359.0L431.5,356.0L430.5,352.0L432.0,350.0L433.5,348.0Z" fill="#fde0dd"/>
<path d="M444.0,368.0L450.0,368.0L456.0,366.0L456.0,374.0L454.0,379.0L449.0,383.0L444.0,387.0L441.0,391.0L443.0,397.0L441.0,402.0L437.0,404.0L435.0,400.0L435.0,395.0L438.0,390.0L439.0,383.0L435.0,377.0L438.0,372.0L439.0,377.0L443.0,381.0L444.0,377.0L442.0,372.0L441.0,366.0L439.0,364.0Z" fill="#7a0177"/>
<path d="M439.0,364.0L441.0,366.0L442.0,372.0L444.0,377.0L443.0,381.0L441.0,379.0L440.0,374.0L438.4,370.0Z" fill="#ae017e"/>
<path d="M423.0,383.0L426.0,380.0L430.0,379.0L435.0,377.0L439.0,383.0L438.0,390.0L434.0,395.0L429.0,394.0L425.0,390.0L421.6,386.0Z" fill="#7a0177"/>
<path d="M411.0,385.0L415.0,383.0L423.0,383.0L421.6,386.0L425.0,390.0L429.0,394.0L427.0,397.0L423.0,400.0L420.0,404.0L415.0,405.0L411.0,408.0L409.0,402.0L409.0,394.0L411.0,392.0Z" fill="#fcc5c0"/>
<path d="M390.0,382.4L398.0,382.4L406.0,383.0L415.0,383.0L411.0,385.0L411.0,392.0L409.0,394.0L409.0,402.0L407.0,413.0L402.0,414.0L398.0,410.0L395.0,400.0L392.0,392.0Z" fill="#fa9fb5"/>
<path d="M402.0,414.0L407.0,413.0L409.0,402.0L411.0,408.0L415.0,405.0L420.0,404.0L423.0,400.0L427.0,397.0L429.0,394.0L434.0,396.0L435.0,400.0L437.0,404.0L436.0,409.0L432.0,414.0L428.0,419.0L422.0,424.0L415.0,427.0L409.0,426.4L405.0,428.0L403.0,424.0L402.0,419.0Z" fill="#ae017e"/>
<path d="M423.6,415.0L426.4,413.0L428.0,415.6L425.0,418.0Z" fill="#fcc5c0"/>
<path d="M431.6,405.6L434.0,405.0L434.4,408.4L432.0,409.0Z" fill="#f768a1"/>
<path d="M461.0,393.0L463.0,388.0L464.0,382.0L468.0,379.0L472.0,375.0L475.0,370.0L477.0,371.0L478.0,377.0L476.0,383.0L473.0,391.0L470.0,398.0L467.0,404.0L463.0,404.0L461.0,400.0Z" fill="#ae017e"/>
<path d="M462.0,368.6L463.2,368.4L463.4,369.6L462.2,369.8Z" fill="#63006f"/>
<path d="M492.6,390.4L493.6,390.4L493.6,391.4L492.6,391.4Z" fill="#dd3497"/>
<path d="M128.0,161.0L104.4,182.6" fill="none"/>
<path d="M115.0,210.0L160.0,210.4L160.0,210.3L171.2,209.7L172.4,210.9L177.6,212.6L183.5,212.6L187.6,214.4L191.2,217.9L192.9,220.9L191.8,224.4L189.4,226.8L187.6,228.5L189.4,229.7L193.5,227.9L198.2,225.6L201.2,224.4L208.2,220.3L213.5,219.7L218.8,217.4L221.8,214.4L224.1,213.8L224.7,216.8L224.1,219.7L222.9,221.5L220.0,222.6L216.5,225.0L214.1,228.5" fill="none"/>
<path d="M383.0,185.5L384.5,182.0L384.0,178.5L385.5,174.0L388.5,169.0L392.0,165.0L396.0,162.5L398.5,162.0" fill="none"/>
<path d="M404.5,169.0L403.0,166.0L400.0,163.5L398.5,162.0L402.0,161.5L405.0,160.5L408.0,160.5L410.0,161.5L411.5,163.0" fill="none"/>
<path d="M347.0,242.0L347.0,235.0L348.0,227.0" fill="none"/>
<path d="M360.0,225.0L364.0,227.0L369.0,226.0" fill="none"/>
<path d="M369.0,205.0L375.0,208.0L378.0,212.0L377.0,217.0L376.5,214.5L377.5,217.5L378.0,220.0" fill="none"/>
<path d="M376.0,199.5L380.0,197.5L385.0,197.0L390.0,198.0L391.0,201.0L392.0,205.0L389.0,206.5L388.0,210.0L390.0,212.5L387.0,214.0L382.0,214.5L376.5,214.5" fill="none"/>
<path d="M391.0,198.5L391.0,201.0" fill="none"/>
<path d="M406.5,188.2L410.0,189.2L414.8,188.2" fill="none"/>
<path d="M405.5,193.0L409.0,192.2L413.0,192.7L416.0,193.5" fill="none"/>
<path d="M404.0,197.2L406.5,197.2L409.0,199.0" fill="none"/>
<path d="M382.0,214.5L384.0,216.2L381.0,218.0L377.5,217.5" fill="none"/>
</g>
<rect x="98.500" y="537.3" width="48" height="11" fill="url(#hatch)" stroke="#c4c4c4" stroke-width="0.8"/>
<line x1="122.500" y1="534" x2="122.500" y2="537.5" stroke="#999" stroke-width="0.5"/>
<text x="122.500" y="530" text-anchor="middle" style="font-family:'Liberation Sans',sans-serif;font-size:13.8px;fill:#5b5b5b">No data</text>
<rect x="166.0" y="537" width="58.5" height="11.5" fill="#fff7f3" stroke="#b5b5b5" stroke-opacity="0.7" stroke-width="0.5"/>
<rect x="224.5" y="537" width="58.5" height="11.5" fill="#fde0dd" stroke="#b5b5b5" stroke-opacity="0.7" stroke-width="0.5"/>
<rect x="283.0" y="537" width="58.5" height="11.5" fill="#fcc5c0" stroke="#b5b5b5" stroke-opacity="0.7" stroke-width="0.5"/>
<rect x="341.5" y="537" width="58.5" height="11.5" fill="#fa9fb5" stroke="#b5b5b5" stroke-opacity="0.7" stroke-width="0.5"/>
<rect x="400.0" y="537" width="58.5" height="11.5" fill="#f768a1" stroke="#b5b5b5" stroke-opacity="0.7" stroke-width="0.5"/>
<rect x="458.5" y="537" width="58.5" height="11.5" fill="#dd3497" stroke="#b5b5b5" stroke-opacity="0.7" stroke-width="0.5"/>
<rect x="517.0" y="537" width="58.5" height="11.5" fill="#ae017e" stroke="#b5b5b5" stroke-opacity="0.7" stroke-width="0.5"/>
<rect x="575.5" y="537" width="58.5" height="11.5" fill="#7a0177" stroke="#b5b5b5" stroke-opacity="0.7" stroke-width="0.5"/>
<rect x="634.0" y="537" width="58.5" height="11.5" fill="#63006f" stroke="#b5b5b5" stroke-opacity="0.7" stroke-width="0.5"/>
<rect x="692.5" y="537" width="58.5" height="11.5" fill="#49006a" stroke="#b5b5b5" stroke-opacity="0.7" stroke-width="0.5"/>
<g stroke="#aaa" stroke-width="0.6"><line x1="166.0" y1="534" x2="166.0" y2="537"/><line x1="166.0" y1="537" x2="166.0" y2="548.5" stroke-opacity="0.4"/><line x1="224.5" y1="534" x2="224.5" y2="537"/><line x1="224.5" y1="537" x2="224.5" y2="548.5" stroke-opacity="0.4"/><line x1="283.0" y1="534" x2="283.0" y2="537"/><line x1="283.0" y1="537" x2="283.0" y2="548.5" stroke-opacity="0.4"/><line x1="341.5" y1="534" x2="341.5" y2="537"/><line x1="341.5" y1="537" x2="341.5" y2="548.5" stroke-opacity="0.4"/><line x1="400.0" y1="534" x2="400.0" y2="537"/><line x1="400.0" y1="537" x2="400.0" y2="548.5" stroke-opacity="0.4"/><line x1="458.5" y1="534" x2="458.5" y2="537"/><line x1="458.5" y1="537" x2="458.5" y2="548.5" stroke-opacity="0.4"/><line x1="517.0" y1="534" x2="517.0" y2="537"/><line x1="517.0" y1="537" x2="517.0" y2="548.5" stroke-opacity="0.4"/><line x1="575.5" y1="534" x2="575.5" y2="537"/><line x1="575.5" y1="537" x2="575.5" y2="548.5" stroke-opacity="0.4"/><line x1="634.0" y1="534" x2="634.0" y2="537"/><line x1="634.0" y1="537" x2="634.0" y2="548.5" stroke-opacity="0.4"/><line x1="692.5" y1="534" x2="692.5" y2="537"/><line x1="692.5" y1="537" x2="692.5" y2="548.5" stroke-opacity="0.4"/><line x1="751.0" y1="534" x2="751.0" y2="537"/><line x1="751.0" y1="537" x2="751.0" y2="548.5" stroke-opacity="0.4"/></g>
<g class="lg"><text x="166.0" y="530" text-anchor="middle">0</text><text x="224.5" y="530" text-anchor="middle">0.1</text><text x="283.0" y="530" text-anchor="middle">0.2</text><text x="341.5" y="530" text-anchor="middle">0.3</text><text x="400.0" y="530" text-anchor="middle">0.4</text><text x="458.5" y="530" text-anchor="middle">0.5</text><text x="517.0" y="530" text-anchor="middle">0.6</text><text x="575.5" y="530" text-anchor="middle">0.7</text><text x="634.0" y="530" text-anchor="middle">0.8</text><text x="692.5" y="530" text-anchor="middle">0.9</text><text x="751.0" y="530" text-anchor="middle">1</text></g>
</svg>
<div class="src"><b>Data source:</b> V-Dem (2025)</div>
<div class="url">OurWorldinData.org/corruption | CC BY</div>
</body></html>
